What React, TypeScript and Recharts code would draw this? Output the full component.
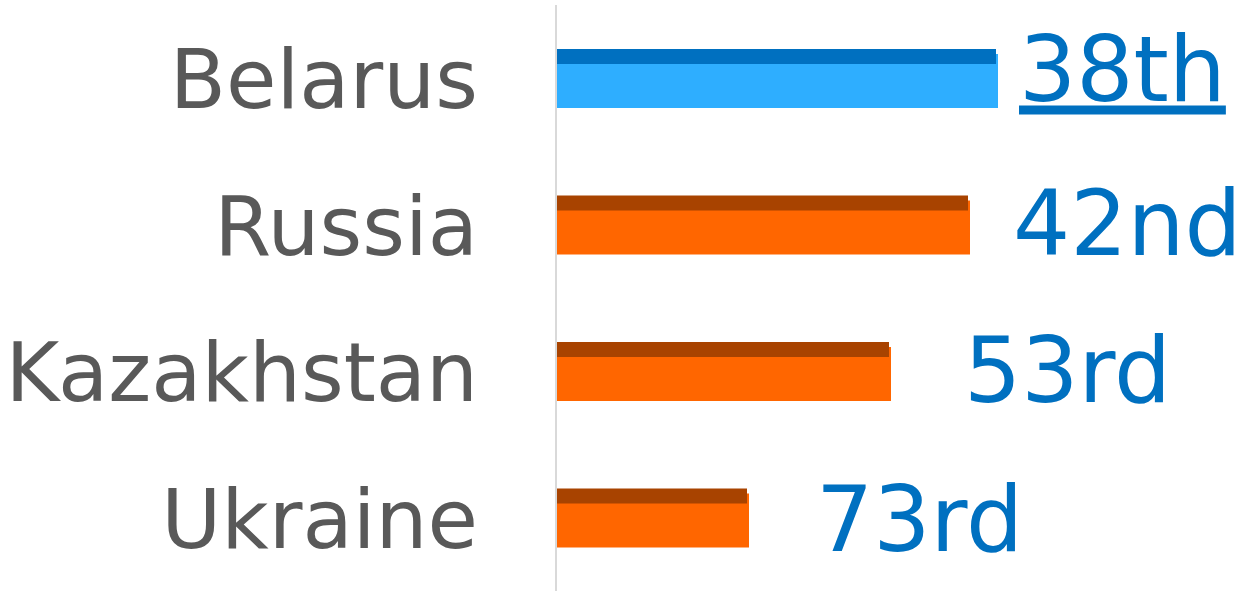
import { BarChart, Bar, XAxis, YAxis, Cell, LabelList } from "recharts";

const countries = ["Belarus", "Russia", "Kazakhstan", "Ukraine"];
const scores = [441, 413, 334, 192];
const ranks = ["38th", "42nd", "53rd", "73rd"];

// label nudges, the original labels were not all placed the same way
const LABEL_DX = [22, 44, 74, 68];
const LABEL_DY = [-8, 0, 0, 3];

const LIGHT = ["#2eaeff", "#ff6600", "#ff6600", "#ff6600"];
const DARK = ["#0070c0", "#a84300", "#a84300", "#a84300"];

const FONT = "'DejaVu Sans', sans-serif";

const data = countries.map((name, i) => ({ name, score: scores[i], rank: ranks[i] }));

const StripedBar = (props: any) => {
    const { x, y, width, height, index } = props;
    return (
        <g>
            <rect x={x + 1} y={y + 5} width={width} height={height - 5} fill={LIGHT[index]} />
            <rect x={x} y={y} width={width - 1} height={15} fill={DARK[index]} />
        </g>
    );
};

const CountryTick = (props: any) => {
    const { x, y, payload } = props;
    return (
        <text x={x} y={y + 30} textAnchor="end" fill="#595959" fontSize={82} fontFamily={FONT}>
            {payload.value}
        </text>
    );
};

const RankLabel = (props: any) => {
    const { x, y, width, height, index, value } = props;
    return (
        <text
            x={x + width + LABEL_DX[index]}
            y={y + height / 2 + 30 + LABEL_DY[index]}
            fill="#0070c0"
            fontSize={90}
            fontFamily={FONT}
            style={index === 0 ? { textDecoration: "underline" } : undefined}
        >
            {value}
        </text>
    );
};

export default function App() {
    return (
        <div style={{ position: "absolute", left: 0, top: 0, background: "#fff" }}>
            <BarChart
                width={1250}
                height={591}
                data={data}
                layout="vertical"
                margin={{ top: 5, right: 0, bottom: 0, left: 0 }}
            >
                <XAxis type="number" hide domain={[0, 694]} />
                <YAxis
                    type="category"
                    dataKey="name"
                    width={556}
                    axisLine={{ stroke: "#d9d9d9", strokeWidth: 2 }}
                    tickLine={false}
                    tickMargin={72}
                    tick={<CountryTick />}
                />
                <Bar dataKey="score" barSize={59} shape={<StripedBar />} isAnimationActive={false}>
                    {data.map((_, i) => (
                        <Cell key={`cell-${i}`} fill={LIGHT[i]} />
                    ))}
                    <LabelList dataKey="rank" content={<RankLabel />} />
                </Bar>
            </BarChart>
        </div>
    );
}
